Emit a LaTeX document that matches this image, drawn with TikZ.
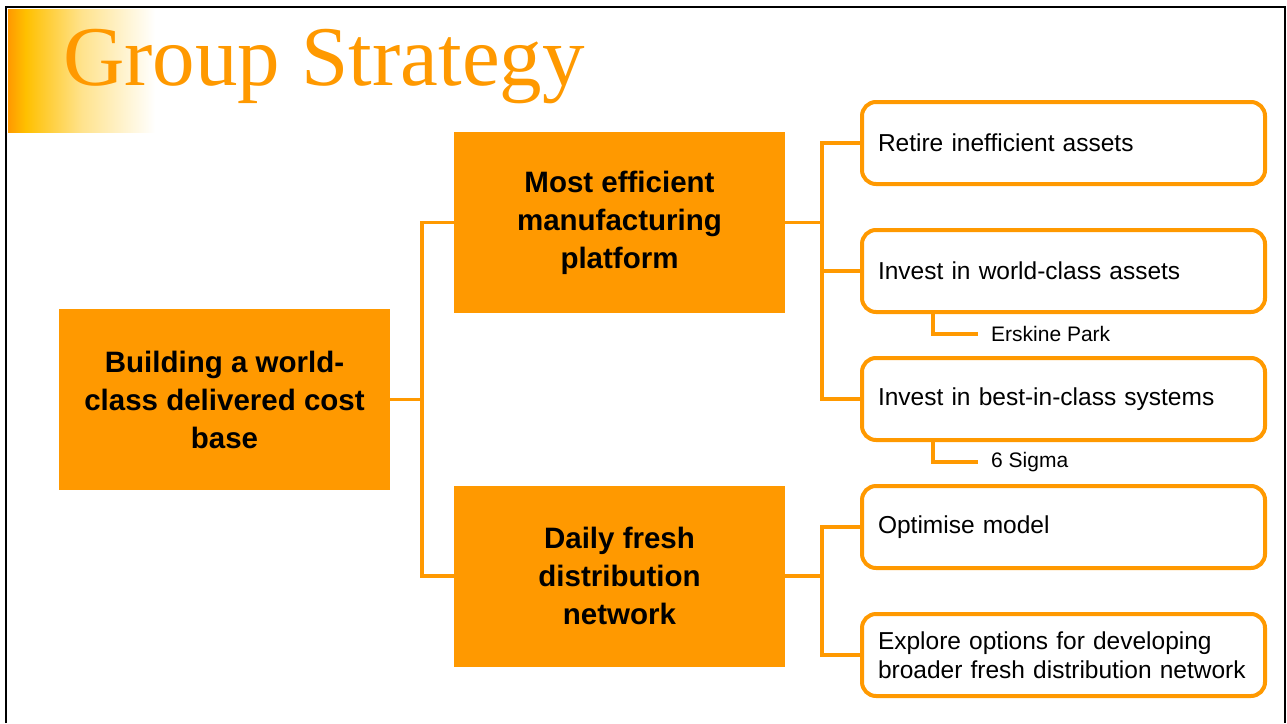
\documentclass[tikz,border=0pt]{standalone}
\usepackage{fontspec}
\setmainfont{Liberation Sans}
\newfontfamily\titlefont{Liberation Serif}
\definecolor{boxorange}{HTML}{FF9900}
\definecolor{hdyellow}{HTML}{FFC000}
\pgfdeclarehorizontalshading{headfade}{100bp}{color(0bp)=(boxorange); color(25bp)=(boxorange); color(31bp)=(hdyellow); color(50bp)=(hdyellow!45!white); color(75bp)=(white); color(100bp)=(white)}
\tikzset{
bigbox/.style={fill=boxorange, minimum width=331, minimum height=181, inner sep=0,
  align=center, font=\bfseries\fontsize{29.5}{38}\selectfont},
roundbox/.style={draw=boxorange, line width=4, rounded corners=14, fill=white,
  minimum width=403, minimum height=82, inner xsep=16, inner ysep=0,
  text width=371, align=left, font=\fontsize{24.5}{29}\selectfont},
leaf/.style={anchor=west, inner sep=0, font=\fontsize{21}{24}\selectfont},
link/.style={draw=boxorange, line width=3.5}
}

\begin{document}
\begin{tikzpicture}[x=1pt,y=-1pt]
\useasboundingbox (0,0) rectangle (1287,723);
% heading
\fill[shading=headfade] (8,9) rectangle (155,132);
\draw[line width=2] (6,723) -- (6,7) -- (1285,7) -- (1285,723);
\node[anchor=base west, inner sep=0, text=boxorange,
  font=\titlefont\fontsize{85}{85}\selectfont] (title) at (63,85) {Group Strategy};

% tree
\node[bigbox] (base) at (224.5,399.5) {Building a world-\\class delivered cost\\base};
\node[bigbox] (mfg) at (619.5,222.5) {Most efficient\\manufacturing\\platform};
\node[bigbox] (dist) at (619.5,576) {Daily fresh\\distribution\\network};

\node[roundbox] (retire) at (1063.5,143) {Retire inefficient assets};
\node[roundbox] (assets) at (1063.5,271) {Invest in world-class assets};
\node[roundbox] (systems) at (1063.5,399) {Invest in best-in-class systems};
\node[roundbox] (optimise) at (1063.5,527) {Optimise model};
\node[roundbox] (explore) at (1063.5,655) {Explore options for developing\\broader fresh distribution network};

\node[leaf] (erskine) at (991,334) {Erskine Park};
\node[leaf] (sigma) at (991,462) {6 Sigma};

\draw[link] (base.east) -- ++(32,0) |- (mfg.west);
\draw[link] (base.east) -- ++(32,0) |- (dist.west);
\foreach \n in {retire,assets,systems}
  \draw[link] (mfg.east) -- ++(37,0) |- (\n.west);
\foreach \n in {optimise,explore}
  \draw[link] (dist.east) -- ++(37,0) |- (\n.west);
\draw[link] ([xshift=73]assets.south west) |- ([xshift=-13]erskine.west);
\draw[link] ([xshift=73]systems.south west) |- ([xshift=-13]sigma.west);
\end{tikzpicture}
\end{document}
